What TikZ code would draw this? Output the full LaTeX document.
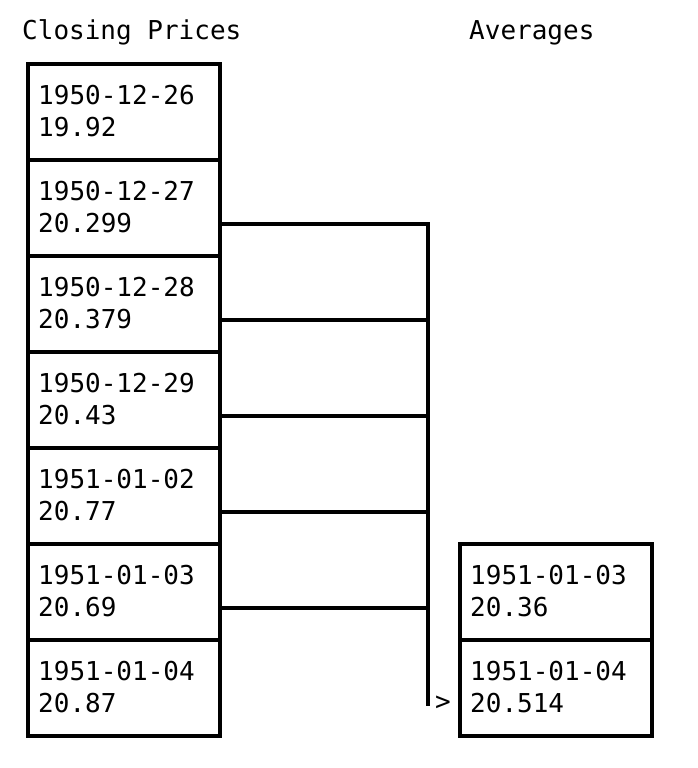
\documentclass[tikz,border=0pt]{standalone}
\usepackage{fontspec}
\setmonofont{DejaVu Sans Mono}
\usetikzlibrary{calc}
\begin{document}
\begin{tikzpicture}[x=1pt,y=-1pt,
  box/.style={draw, line width=4pt, minimum width=192pt, minimum height=96pt, inner sep=0pt, outer sep=0pt, anchor=north west},
  txt/.style={font=\ttfamily\fontsize{26}{32}\selectfont, inner sep=0pt, anchor=base west, align=left},
  wire/.style={line width=4pt}]
\useasboundingbox (0,0) rectangle (698,768);
\node[txt] (t1) at (22,40) {Closing Prices};
\node[txt] (t2) at (469,40) {Averages};
\foreach \i/\d/\v in {1/1950-12-26/19.92, 2/1950-12-27/20.299, 3/1950-12-28/20.379, 4/1950-12-29/20.43, 5/1951-01-02/20.77, 6/1951-01-03/20.69, 7/1951-01-04/20.87}{
  \node[box] (c\i) at (28,{64+96*(\i-1)}) {};
  \node[txt] (l\i) at ($(c\i.north west)+(10,72)$) {\d\\\v};
  \coordinate (p\i) at ($(c\i.north east)+(0,64)$);
}
\node[box] (a1) at (460,544) {};
\node[txt] (m1) at ($(a1.north west)+(10,72)$) {1951-01-03\\20.36};
\node[box] (a2) at (460,640) {};
\node[txt] (m2) at ($(a2.north west)+(10,72)$) {1951-01-04\\20.514};
\coordinate (bustop) at (428,224);
\coordinate (busbot) at (428,706);
\node[font=\ttfamily\fontsize{26}{32}\selectfont, inner sep=0pt] (arr) at (443,703) {>};
\draw[wire] (p2) -- (bustop) -- (busbot);
\draw[wire] (p3) -- (p3 -| bustop);
\draw[wire] (p4) -- (p4 -| bustop);
\draw[wire] (p5) -- (p5 -| bustop);
\draw[wire] (p6) -- (p6 -| bustop);
\end{tikzpicture}
\end{document}
